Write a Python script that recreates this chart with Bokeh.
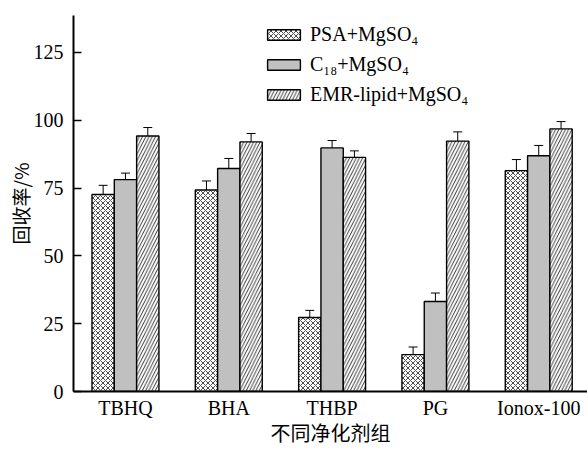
import numpy as np
from bokeh.plotting import figure
from bokeh.models import (ColumnDataSource, FixedTicker, Range1d, Whisker, TeeHead,
                          Legend, LegendItem)
from bokeh.embed import file_html
from bokeh.resources import INLINE

groups = ["TBHQ", "BHA", "THBP", "PG", "Ionox-100"]
series = ["PSA+MgSO₄", "C₁₈+MgSO₄", "EMR-lipid+MgSO₄"]
psa = [72.6, 74.3, 27.3, 13.6, 81.4]
psa_err = [3.4, 3.3, 2.6, 2.8, 4.1]
c18 = [78.1, 82.2, 89.8, 33.2, 86.9]
c18_err = [2.4, 3.7, 2.7, 3.1, 3.8]
emr = [94.2, 92.0, 86.3, 92.3, 96.8]
emr_err = [3.1, 3.1, 2.4, 3.4, 2.7]
y_ticks = [0, 25, 50, 75, 100, 125]

SERIF = "Liberation Serif"
CJK = "Noto Sans CJK SC"

p = figure(width=587, height=449, output_backend="svg", toolbar_location=None,
           x_range=Range1d(-0.503, 4.472), y_range=Range1d(0, 138.6),
           min_border_left=73, min_border_right=0, min_border_top=15, min_border_bottom=57)
p.outline_line_color = None
p.xgrid.visible = False
p.ygrid.visible = False
p.background_fill_color = "white"

bw = 0.216
idx = np.arange(len(groups))
styles = [
    dict(fill_color="white", hatch_pattern="diagonal_cross", hatch_color="black", hatch_scale=5, hatch_weight=0.7),
    dict(fill_color="#c0c0c0"),
    dict(fill_color="white", hatch_pattern="right_diagonal_line", hatch_color="black", hatch_scale=6.5, hatch_weight=0.8),
]
vals = [psa, c18, emr]
errs = [psa_err, c18_err, emr_err]
renderers = []
for k in range(3):
    x = idx + (k - 1) * bw
    src = ColumnDataSource(dict(x=x, top=vals[k], upper=np.array(vals[k]) + np.array(errs[k])))
    r = p.vbar(x="x", top="top", width=bw, bottom=0, source=src,
               line_color="black", line_width=1.4, **styles[k])
    renderers.append(r)
    w = Whisker(base="x", lower="top", upper="upper", source=src,
                line_color="black", line_width=1,
                upper_head=TeeHead(size=9, line_color="black", line_width=1),
                lower_head=None)
    p.add_layout(w)

legend = Legend(items=[LegendItem(label=series[k], renderers=[renderers[k]]) for k in range(3)],
                location=(190, 285), border_line_color=None, background_fill_alpha=0,
                label_text_font=SERIF, label_text_font_size="20px", label_text_color="black",
                glyph_width=41, glyph_height=13, spacing=7, padding=0, margin=0,
                label_standoff=6, label_height=22)
p.add_layout(legend)

p.xaxis.ticker = FixedTicker(ticks=list(idx))
p.xaxis.major_label_overrides = {int(i): g for i, g in zip(idx, groups)}
p.xaxis.major_tick_line_color = None
p.xaxis.minor_tick_line_color = None
p.xaxis.axis_line_width = 2
p.xaxis.axis_line_color = "black"
p.xaxis.major_label_text_font = SERIF
p.xaxis.major_label_text_font_size = "20px"
p.xaxis.major_label_text_color = "black"
p.xaxis.major_label_standoff = -1
p.xaxis.axis_label = "不同净化剂组"
p.xaxis.axis_label_text_font = CJK
p.xaxis.axis_label_text_font_size = "20px"
p.xaxis.axis_label_text_font_style = "normal"
p.xaxis.axis_label_text_color = "black"
p.xaxis.axis_label_standoff = -4

p.yaxis.ticker = FixedTicker(ticks=y_ticks)
p.yaxis.minor_tick_line_color = None
p.yaxis.major_tick_in = 8
p.yaxis.major_tick_out = 0
p.yaxis.major_tick_line_width = 1.5
p.yaxis.axis_line_width = 2
p.yaxis.axis_line_color = "black"
p.yaxis.major_label_text_font = SERIF
p.yaxis.major_label_text_font_size = "20px"
p.yaxis.major_label_text_color = "black"
p.yaxis.major_label_standoff = 10
p.yaxis.axis_label = "回收率/%"
p.yaxis.axis_label_text_font = CJK
p.yaxis.axis_label_text_font_size = "19px"
p.yaxis.axis_label_text_font_style = "normal"
p.yaxis.axis_label_text_color = "black"
p.yaxis.axis_label_standoff = -3

open("out.html", "w").write(file_html(p, INLINE))
